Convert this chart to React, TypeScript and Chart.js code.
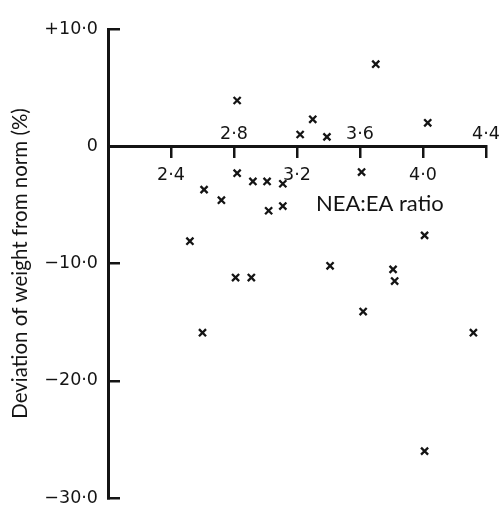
import { useEffect, useRef } from 'react';
import { Chart, registerables } from 'chart.js';

Chart.register(...registerables);

const ratioValues = [2.82, 3.30, 3.22, 3.39, 3.70, 4.03, 2.82, 2.92, 3.01, 3.11, 2.61, 3.61, 2.72, 3.02, 3.11, 2.52, 4.01, 2.81, 2.91, 3.41, 3.81, 3.82, 3.62, 2.60, 4.32, 4.01];
const deviationValues = [3.9, 2.3, 1.0, 0.8, 7.0, 2.0, -2.3, -3.0, -3.0, -3.2, -3.7, -2.2, -4.6, -5.5, -5.1, -8.1, -7.6, -11.2, -11.2, -10.2, -10.5, -11.5, -14.1, -15.9, -15.9, -26.0];

const xTickValues = [2.4, 2.8, 3.2, 3.6, 4.0, 4.4];
const xTickLabels = ['2·4', '2·8', '3·2', '3·6', '4·0', '4·4'];
const yTickValues = [10, 0, -10, -20, -30];
const yTickLabels = ['+10·0', '0', '−10·0', '−20·0', '−30·0'];
const xAxisTitle = 'NEA:EA ratio';
const yAxisTitle = 'Deviation of weight from norm (%)';

const FONT = 'Lato, "Open Sans", "DejaVu Sans", sans-serif';
const NUM_FONT = '"DejaVu Sans", Lato, sans-serif';
const INK = '#141414';

export default function App() {
  const ref = useRef<HTMLCanvasElement>(null);

  useEffect(() => {
    const canvas = ref.current;
    if (!canvas) return;

    const xLabelsPlugin = {
      id: 'xLabels',
      afterDraw(chart: any) {
        const { ctx } = chart;
        const xs = chart.scales.x;
        const ys = chart.scales.y;
        const y0 = ys.getPixelForValue(0);
        ctx.save();
        ctx.fillStyle = INK;
        ctx.font = `17.5px ${NUM_FONT}`;
        ctx.textAlign = 'center';
        ctx.textBaseline = 'alphabetic';
        xTickValues.forEach((v, i) => {
          const px = xs.getPixelForValue(v);
          const below = i % 2 === 0;
          ctx.fillText(xTickLabels[i], px, below ? y0 + 33.5 : y0 - 7);
        });
        ctx.font = `22px ${FONT}`;
        ctx.textAlign = 'left';
        ctx.fillText(xAxisTitle, xs.getPixelForValue(3.32), y0 + 65);
        ctx.restore();
      },
    };

    const chart = new Chart(canvas, {
      type: 'scatter',
      data: {
        datasets: [
          {
            data: ratioValues.map((r, i) => ({ x: r, y: deviationValues[i] })),
            pointStyle: 'crossRot',
            pointRadius: 5,
            pointHoverRadius: 5,
            pointBorderWidth: 2.3,
            borderColor: INK,
            backgroundColor: INK,
          },
        ],
      },
      options: {
        responsive: false,
        animation: false,
        events: [],
        layout: { padding: { left: 0, top: 20, right: 17, bottom: 8 } },
        plugins: { legend: { display: false }, tooltip: { enabled: false } },
        scales: {
          x: {
            type: 'linear',
            min: 2.0,
            max: 4.4,
            position: { y: 0 },
            afterBuildTicks: (s: any) => {
              s.ticks = xTickValues.map((v) => ({ value: v }));
            },
            ticks: { display: false },
            grid: { drawOnChartArea: false, drawTicks: true, tickLength: 10, lineWidth: 2.5, color: INK },
            border: { display: true, width: 3, color: INK },
          },
          y: {
            type: 'linear',
            min: -30,
            max: 10,
            position: 'left',
            afterBuildTicks: (s: any) => {
              s.ticks = yTickValues.map((v) => ({ value: v }));
            },
            afterFit: (s: any) => {
              s.width = 108;
            },
            ticks: {
              callback: (v: any) => {
                const idx = yTickValues.indexOf(Number(v));
                return idx >= 0 ? yTickLabels[idx] : '';
              },
              font: { family: NUM_FONT, size: 17.5, lineHeight: 0.8 },
              color: INK,
              padding: 22,
            },
            grid: { drawOnChartArea: false, drawTicks: true, tickLength: -12, lineWidth: 2.5, color: INK },
            border: { display: true, width: 3, color: INK },
            title: {
              display: true,
              text: yAxisTitle,
              font: { family: FONT, size: 20.5 },
              color: INK,
              padding: { top: 8, bottom: 0 },
            },
          },
        },
      },
      plugins: [xLabelsPlugin],
    } as any);

    return () => chart.destroy();
  }, []);

  return (
    <div style={{ position: 'fixed', left: 0, top: 0, width: 503, height: 527, background: '#fff' }}>
      <canvas ref={ref} width={503} height={527} style={{ display: 'block' }} />
    </div>
  );
}
